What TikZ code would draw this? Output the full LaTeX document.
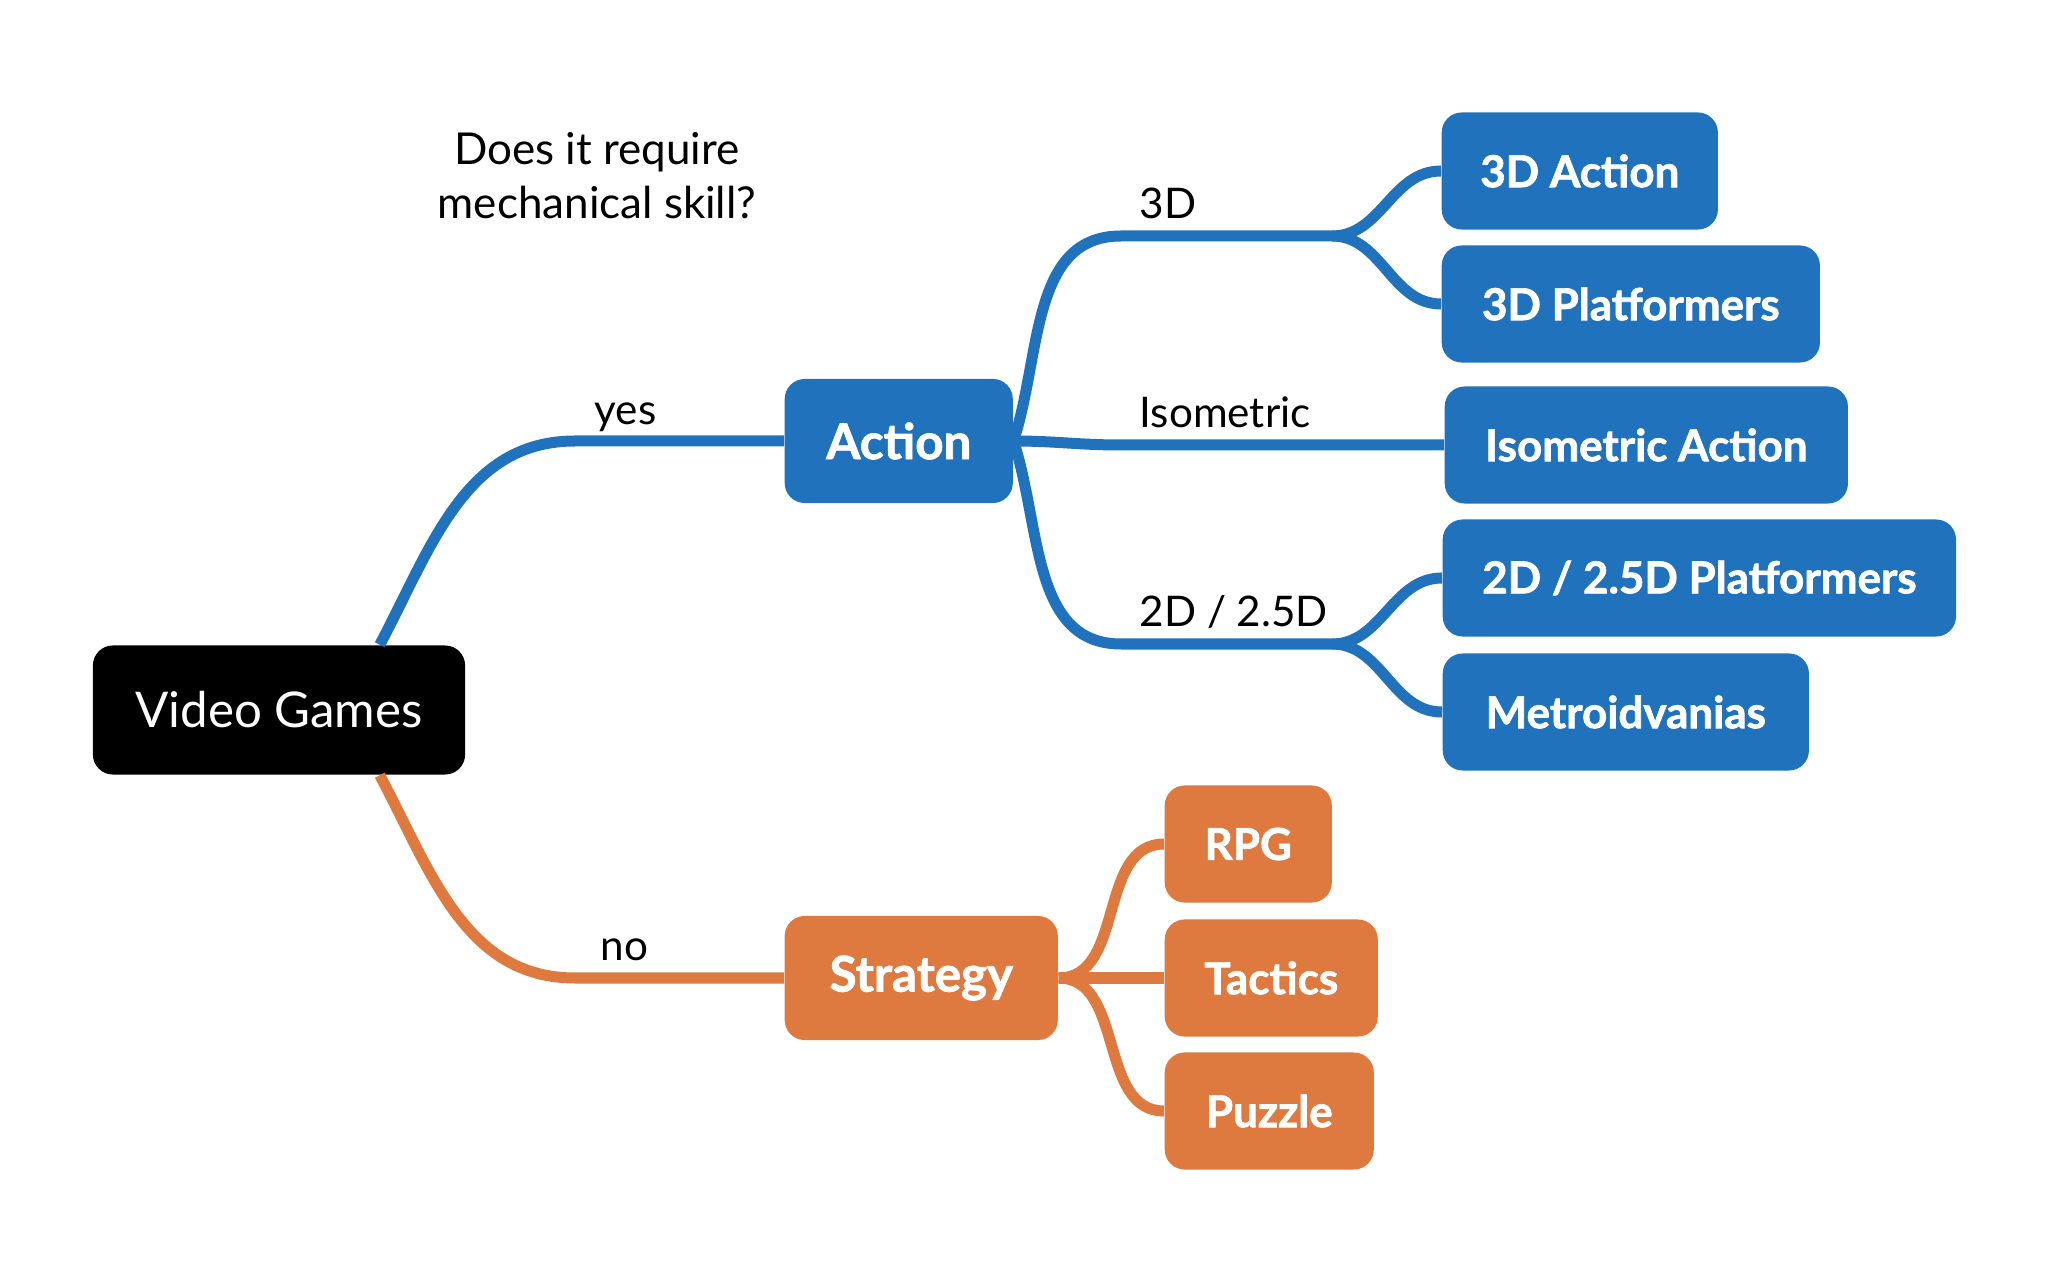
\documentclass[tikz,border=0pt]{standalone}
\usepackage{fontspec}
\setmainfont{Lato}
\newfontfamily\heavyfont{Lato}[BoldFeatures={FakeBold=1.6}]
\usetikzlibrary{positioning,calc}
\definecolor{actblue}{RGB}{32,114,189}
\definecolor{stratorange}{RGB}{222,122,63}
\tikzset{genre/.style={rounded corners=0.2cm,inner xsep=0pt,minimum height=1.17cm,text=white,anchor=west,
    font=\fontsize{12.5}{15}\heavyfont\bfseries},
  actbox/.style={genre,fill=actblue},
  stratbox/.style={genre,fill=stratorange},
  topbox/.style={genre,minimum height=1.24cm,font=\fontsize{14}{17}\heavyfont\bfseries},
  branch/.style={line width=0.11cm},
  edgetext/.style={anchor=base west,inner sep=0pt,font=\fontsize{12}{14}\selectfont}}

\begin{document}
\begin{tikzpicture}[x=0.01cm,y=0.01cm]
\useasboundingbox (0,0) rectangle (2048,1266);
\node[fill=black,rounded corners=0.2cm,text=white,minimum width=3.72cm,minimum height=1.29cm,
  font=\fontsize{14}{17}\selectfont] (vg) at (279,556) {Video Games};
\node[align=center,font=\fontsize{12.5}{15.4}\selectfont] (question) at (597,1090) {Does it require\\mechanical skill?};

\node[topbox,fill=actblue,minimum width=2.28cm] (action) at (784,825) {Action};
\node[topbox,fill=stratorange,minimum width=2.73cm] (strategy) at (784,288) {Strategy};

\node[actbox,minimum width=2.76cm] (a3d) at (1441,1095) {3D Action};
\node[actbox,minimum width=3.78cm] (p3d) at (1441,962) {3D Platformers};
\node[actbox,minimum width=4.03cm] (iso) at (1444,821) {Isometric Action};
\node[actbox,minimum width=5.13cm] (p2d) at (1442,688) {2D / 2.5D Platformers};
\node[actbox,minimum width=3.66cm] (metro) at (1442,554) {Metroidvanias};

\node[stratbox,minimum width=1.67cm] (rpg) at (1164,422) {RPG};
\node[stratbox,minimum width=2.13cm] (tactics) at (1164,288) {Tactics};
\node[stratbox,minimum width=2.09cm] (puzzle) at (1164,155) {Puzzle};

\coordinate (yesbend) at (575,825);
\coordinate (nobend) at (575,288);
\coordinate (b3d) at (1121,1030);
\coordinate (s3d) at (1332,1030);
\coordinate (biso) at (1121,821);
\coordinate (b2d) at (1121,622);
\coordinate (s2d) at (1332,622);

\draw[branch,actblue] ([xshift=-0.86cm]vg.north east) to[out=62,in=180] (yesbend) -- (action.west);
\draw[branch,stratorange] ([xshift=-0.86cm]vg.south east) to[out=-62,in=180] (nobend) -- (strategy.west);

\draw[branch,actblue] (action.east) to[out=72,in=180] (b3d) -- (s3d) to[out=0,in=180] (a3d.west);
\draw[branch,actblue] (s3d) to[out=0,in=180] (p3d.west);
\draw[branch,actblue] (action.east) to[out=0,in=180] (biso) -- (iso.west);
\draw[branch,actblue] (action.east) to[out=-72,in=180] (b2d) -- (s2d) to[out=0,in=180] (p2d.west);
\draw[branch,actblue] (s2d) to[out=0,in=180] (metro.west);

\foreach \leaf in {rpg,tactics,puzzle}
  \draw[branch,stratorange] (strategy.east) to[out=0,in=180] (\leaf.west);

\node[edgetext] (yes) at ($(yesbend)+(19,16)$) {yes};
\node[edgetext] (no) at ($(nobend)+(25,17)$) {no};
\node[edgetext] (l3d) at ($(b3d)+(18,17)$) {3D};
\node[edgetext] (liso) at ($(biso)+(18,17)$) {Isometric};
\node[edgetext] (l2d) at ($(b2d)+(18,17)$) {2D / 2.5D};
\end{tikzpicture}
\end{document}
